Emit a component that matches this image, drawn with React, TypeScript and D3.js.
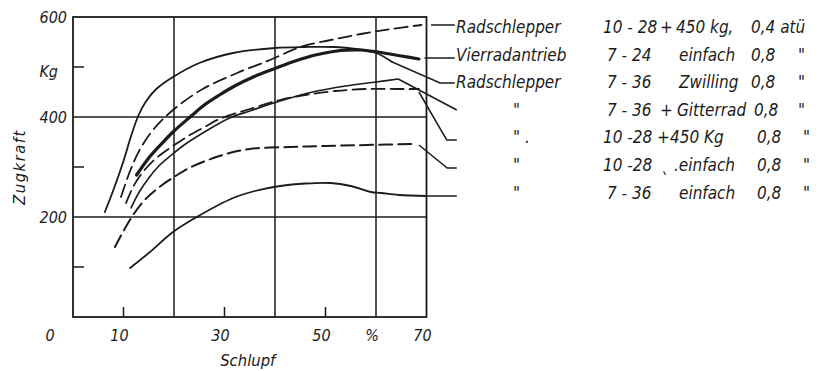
import { useEffect, useRef } from 'react'
import * as d3 from 'd3'

type Pt = [number, number]

// Schlupf (%) vs Zugkraft (kg)
const rad1028Atue: Pt[] = [
  [9.5, 240], [11.3, 292], [13.3, 336], [16, 376], [19.8, 414], [25.7, 456], [32.5, 488],
  [39, 514], [45, 540], [51, 554], [57, 566], [63, 576], [69, 584],
]
const vierrad724: Pt[] = [
  [12.6, 284], [15, 318], [17.5, 346], [20, 372], [23.2, 400], [26, 424], [29, 444], [32, 462],
  [35.7, 480], [40, 497], [44, 512], [48, 524], [53, 533], [57, 534], [61, 529], [65, 522], [68.5, 516],
]
const rad736Zwilling: Pt[] = [
  [6.3, 210], [8, 254], [10, 312], [11.5, 362], [13, 404], [14.5, 432], [16.5, 456], [19.8, 480],
  [25, 508], [31.7, 528], [40, 538], [46, 540], [52, 540], [56, 536], [60, 528], [63.2, 510],
]
const rad736Gitter: Pt[] = [
  [11.5, 218], [13, 248], [15, 278], [17, 302], [19.5, 324], [22, 344], [25.7, 368], [31, 398],
  [35, 412], [41, 432], [47.5, 450], [54, 462], [60, 470], [64.4, 476],
]
const rad1028Kg: Pt[] = [
  [10.5, 228], [12, 262], [14, 292], [16.5, 318], [19.5, 340], [22.5, 360], [25.7, 378], [29, 396],
  [35, 416], [41, 434], [46, 444], [52, 452], [58, 456], [64, 456], [68.5, 456],
]
const rad1028Einfach: Pt[] = [
  [8.3, 140], [10, 172], [11.9, 204], [14, 232], [16.6, 256], [20, 280], [23, 298], [29, 322],
  [35, 336], [43, 340], [50, 342], [58, 344], [68, 346],
]
const rad736Einfach: Pt[] = [
  [11.3, 98], [15, 128], [19.8, 170], [24.5, 200], [31.7, 238], [36, 252], [41, 262], [46, 267],
  [51, 268], [55, 262], [59, 250], [61, 248], [64.5, 244], [70, 242],
]

// leader lines out to the labels, same units (past 70 %)
const leaderLines: Pt[][] = [
  [[70.9, 584], [75.6, 584]],
  [[69.6, 518], [75.6, 518]],
  [[63.2, 510], [72.7, 468], [75.6, 468]],
  [[64.4, 476], [76, 414]],
  [[68.5, 450], [74, 354], [76, 354]],
  [[68.5, 344], [74.1, 298], [76, 298]],
  [[70, 242], [76, 242]],
]

const xGrid = [20, 40, 60]
const yGrid = [200, 400]
const xMinor = [10, 30, 50]
const yMinor = [100, 300, 500]
const xTickVals = [10, 30, 50, 60, 70]
const xTickText = ['10', '30', '50', '%', '70']
const yTickVals = [600, 500, 400, 200]
const yTickText = ['600', 'Kg', '400', '200']

const legendName = ['Radschlepper', 'Vierradantrieb', 'Radschlepper', '"', '" .', '"', '"']
const legendTyre = ['10 - 28', '7 - 24', '7 - 36', '7 - 36', '10 -28', '10 -28', '7 - 36']
const legendPlus = ['+', '', '', '+', '+', '\u02CE', '']
const legendKind = ['450 kg,', 'einfach', 'Zwilling', 'Gitterrad', '450 Kg', '.einfach', 'einfach']
const legendPressure = ['0,4  atü', '0,8', '0,8', '0,8', '0,8', '0,8', '0,8']
const legendMark = ['', '"', '"', '"', '"', '"', '"']

const INK = '#1b1b1b'
const FONT = "'DejaVu Sans Condensed', 'DejaVu Sans', sans-serif"

export default function App() {
  const ref = useRef<SVGSVGElement>(null)

  useEffect(() => {
    const el = ref.current
    if (!el) return
    const svg = d3.select(el)
    svg.selectAll('*').remove()

    const x = d3.scaleLinear().domain([0, 70]).range([73, 426.5])
    const y = d3.scaleLinear().domain([0, 600]).range([317, 17])

    const g = svg.append('g').attr('font-family', FONT).attr('font-style', 'italic').attr('fill', INK)

    // frame + grid
    g.append('rect')
      .attr('x', x(0)).attr('y', y(600))
      .attr('width', x(70) - x(0)).attr('height', y(0) - y(600))
      .attr('fill', 'none').attr('stroke', INK).attr('stroke-width', 1.8)
    g.selectAll('line.vg').data(xGrid).join('line')
      .attr('x1', (d) => x(d)).attr('x2', (d) => x(d))
      .attr('y1', y(0)).attr('y2', y(600))
      .attr('stroke', INK).attr('stroke-width', 1.5)
    g.selectAll('line.hg').data(yGrid).join('line')
      .attr('x1', x(0)).attr('x2', x(70))
      .attr('y1', (d) => y(d)).attr('y2', (d) => y(d))
      .attr('stroke', INK).attr('stroke-width', 1.5)
    g.selectAll('line.xm').data(xMinor).join('line')
      .attr('x1', (d) => x(d)).attr('x2', (d) => x(d))
      .attr('y1', y(0)).attr('y2', y(0) - 10)
      .attr('stroke', INK).attr('stroke-width', 1.5)
    g.selectAll('line.ym').data(yMinor).join('line')
      .attr('x1', x(0)).attr('x2', x(0) + 11)
      .attr('y1', (d) => y(d)).attr('y2', (d) => y(d))
      .attr('stroke', INK).attr('stroke-width', 1.5)

    // tick labels
    g.selectAll('text.yt').data(yTickVals).join('text')
      .attr('x', (d, i) => (yTickText[i] === 'Kg' ? 58 : 67))
      .attr('y', (d, i) => y(d) + (yTickText[i] === 'Kg' ? 4 : 0))
      .attr('dy', '0.35em').attr('text-anchor', 'end')
      .attr('font-size', 16)
      .text((d, i) => yTickText[i])
    g.selectAll('text.xt').data(xTickVals).join('text')
      .attr('x', (d) => x(d) - 4).attr('y', y(0) + 18)
      .attr('dy', '0.35em').attr('text-anchor', 'middle')
      .attr('font-size', 16)
      .text((d, i) => xTickText[i])
    g.append('text')
      .attr('x', x(0) - 23).attr('y', y(0) + 18)
      .attr('dy', '0.35em').attr('text-anchor', 'middle')
      .attr('font-size', 16).text('0')

    g.append('text')
      .attr('x', x(35) - 2).attr('y', 360)
      .attr('dy', '0.35em').attr('text-anchor', 'middle')
      .attr('font-size', 16.5).text('Schlupf')
    g.append('text')
      .attr('transform', `translate(19,${y(300)}) rotate(-90)`)
      .attr('dy', '0.35em').attr('text-anchor', 'middle')
      .attr('font-size', 16.5).attr('letter-spacing', 1.5)
      .text('Zugkraft')

    // curves
    const series = [
      { pts: rad1028Atue, dash: true, w: 1.8 },
      { pts: vierrad724, dash: false, w: 3.2 },
      { pts: rad736Zwilling, dash: false, w: 1.8 },
      { pts: rad736Gitter, dash: false, w: 1.6 },
      { pts: rad1028Kg, dash: true, w: 1.8 },
      { pts: rad1028Einfach, dash: true, w: 2 },
      { pts: rad736Einfach, dash: false, w: 1.8 },
    ]
    const line = d3.line<Pt>().x((d) => x(d[0])).y((d) => y(d[1])).curve(d3.curveCatmullRom.alpha(0.5))
    g.selectAll('path.curve').data(series).join('path')
      .attr('d', (d) => line(d.pts))
      .attr('fill', 'none').attr('stroke', INK)
      .attr('stroke-width', (d) => d.w)
      .attr('stroke-dasharray', (d) => (d.dash ? '13 6' : null))
      .attr('stroke-linecap', 'round')

    const straight = d3.line<Pt>().x((d) => x(d[0])).y((d) => y(d[1]))
    g.selectAll('path.leader').data(leaderLines).join('path')
      .attr('d', (d) => straight(d))
      .attr('fill', 'none').attr('stroke', INK).attr('stroke-width', 1.5)

    // legend text
    const rows = legendName.map((n, i) => i)
    const rowY = (i: number) => 27 + i * 27.6
    const fs = 17
    const col = (cls: string, xs: (i: number) => number, txt: (i: number) => string) =>
      g.selectAll(`text.${cls}`).data(rows).join('text')
        .attr('x', (i) => xs(i)).attr('y', (i) => rowY(i))
        .attr('dy', '0.35em').attr('font-size', fs)
        .text((i) => txt(i))
    col('nm', (i) => (i < 3 ? 456 : 513), (i) => legendName[i])
    col('ty', (i) => ([1, 2, 3, 6].includes(i) ? 607 : 603), (i) => legendTyre[i])
    col('pl', (i) => (i === 4 ? 657 : 660), (i) => legendPlus[i])
    col('kd', (i) => (i === 0 ? 676 : i === 3 ? 677 : i === 4 ? 670 : i === 5 ? 674 : 679), (i) => legendKind[i])
    col('pr', (i) => (i < 3 ? 751 : i === 3 ? 754 : 757), (i) => legendPressure[i])
    col('mk', (i) => (i < 4 ? 798 : 803), (i) => legendMark[i])
  }, [])

  return (
    <svg
      ref={ref}
      width={831}
      height={371}
      style={{ position: 'absolute', left: 0, top: 0, background: '#fff' }}
    />
  )
}
